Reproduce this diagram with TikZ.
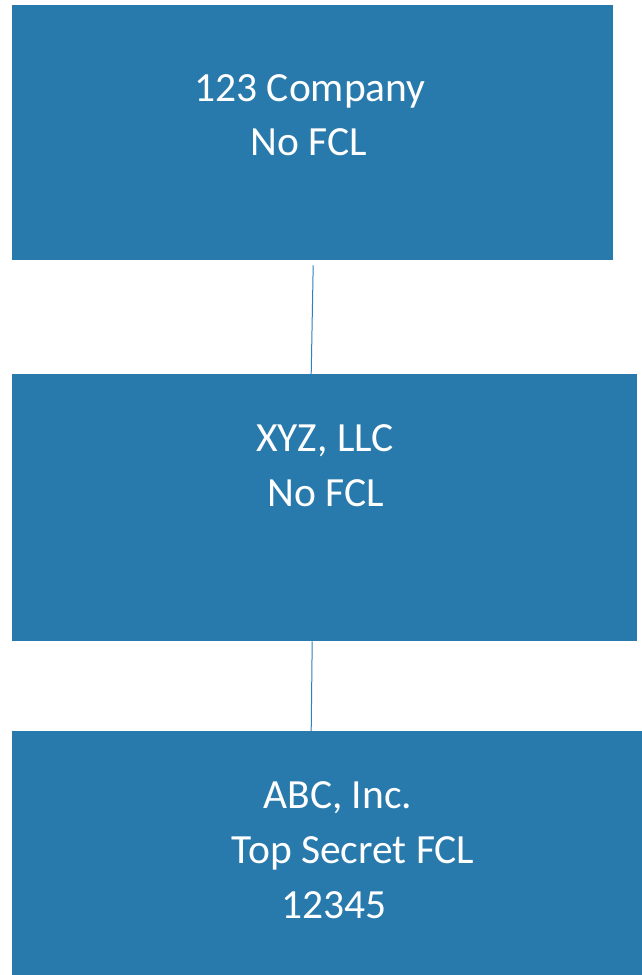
\documentclass[tikz,border=0pt]{standalone}
\usepackage{fontspec}
\setmainfont{Carlito}
\definecolor{boxblue}{RGB}{41,122,172}
\definecolor{lineblue}{RGB}{46,128,190}
\tikzset{
  orgbox/.style={rectangle, fill=boxblue, draw=none, inner sep=0pt, anchor=north west},
  orgtext/.style={text=white, font=\fontsize{41.5}{48}\selectfont, inner sep=0pt, anchor=base},
  orglink/.style={draw=lineblue, line width=1pt}
}
\begin{document}
\begin{tikzpicture}[x=1pt, y=-1pt]
            \useasboundingbox (0, 0) rectangle (642, 975);
            \node[orgbox, minimum width=601pt, minimum height=255pt] (company) at (12, 5) {};
            \node[orgbox, minimum width=625pt, minimum height=267pt] (llc) at (12, 374) {};
            \node[orgbox, minimum width=640pt, minimum height=250pt] (inc) at (12, 731) {};
            %\foreach over the lines would not keep their odd offsets
            \node[orgtext] (companyname) at (310, 101) {123 Company};
            \node[orgtext] (companyfcl) at (309, 155) {No FCL};
            \node[orgtext] (llcname) at (325, 451) {XYZ, LLC};
            \node[orgtext] (llcfcl) at (326, 506) {No FCL};
            \node[orgtext] (incname) at (338, 808) {ABC, Inc.};
            \node[orgtext] (incfcl) at (353, 863) {Top Secret FCL};
            \node[orgtext] (inccode) at (334, 918) {12345};
            \draw[orglink] ([xshift=0.5pt, yshift=-5pt]company.south) -- ([xshift=-13.5pt]llc.north);
            \draw[orglink] ([xshift=-12.5pt]llc.south) -- ([xshift=-21pt]inc.north);
\end{tikzpicture}
\end{document}
